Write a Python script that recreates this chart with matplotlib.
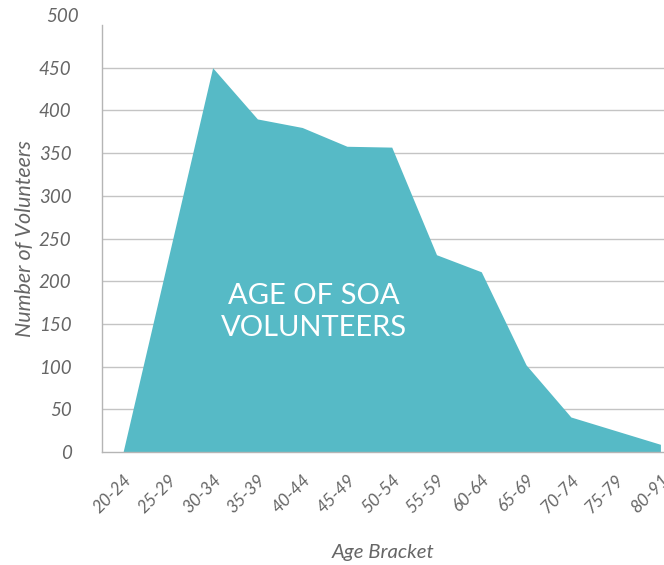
import matplotlib
matplotlib.use("Agg")
import matplotlib.pyplot as plt
from matplotlib.transforms import offset_copy

# data
brackets = ["20-24", "25-29", "30-34", "35-39", "40-44", "45-49", "50-54",
            "55-59", "60-64", "65-69", "70-74", "75-79", "80-91"]
volunteers = [0, 225, 450, 390, 380, 358, 357, 231, 211, 102, 41, 25, 9]
y_ticks = [0, 50, 100, 150, 200, 250, 300, 350, 400, 450, 500]

plt.rcParams['font.family'] = ['Lato', 'DejaVu Sans']
grey = '#666666'
teal = '#56BAC6'

fig = plt.figure(figsize=(6.64, 5.65), dpi=100)
ax = fig.add_axes([102 / 664, 113 / 565, 1 - 102 / 664, 427 / 565])

x = range(len(brackets))
ax.fill_between(x, volunteers, 0, color=teal, linewidth=0, zorder=2)

ax.set_xlim(-0.47, 12.08)
ax.set_ylim(0, 500)

# grid lines (none at the very top)
for v in y_ticks[1:-1]:
    ax.axhline(v, color='#c4c4c4', linewidth=1.0, zorder=1)

ax.set_yticks(y_ticks[:-1])
ax.set_yticklabels([str(v) for v in y_ticks[:-1]], fontsize=13.5, style='italic', color=grey)
# top label sits a little above the axis top in the reference
ax.text(-0.03, y_ticks[-1], str(y_ticks[-1]), fontsize=13.5, style='italic', color=grey,
        ha='right', va='center', clip_on=False,
        transform=offset_copy(ax.get_yaxis_transform(), fig=fig, x=-6, y=9, units='dots'))
ax.set_xticks(list(x))
ax.set_xticklabels(brackets, rotation=45, ha='right', rotation_mode='anchor',
                   fontsize=12.5, style='italic', color=grey)
ax.tick_params(axis='both', length=0)
ax.tick_params(axis='y', pad=22)
ax.tick_params(axis='x', pad=14)

for s in ['top', 'right']:
    ax.spines[s].set_visible(False)
for s in ['left', 'bottom']:
    ax.spines[s].set_color('#b5b5b5')
    ax.spines[s].set_linewidth(1.0)

ax.set_xlabel("Age Bracket", fontsize=14.7, style='italic', color=grey, labelpad=20)
ax.set_ylabel("Number of Volunteers", fontsize=15.5, style='italic', color=grey, labelpad=3)

ax.text(4.27, 164, "AGE OF SOA\nVOLUNTEERS", color='white', fontsize=21,
        ha='center', va='center', linespacing=1.25, zorder=3)

fig.savefig("out.png", dpi=100)
